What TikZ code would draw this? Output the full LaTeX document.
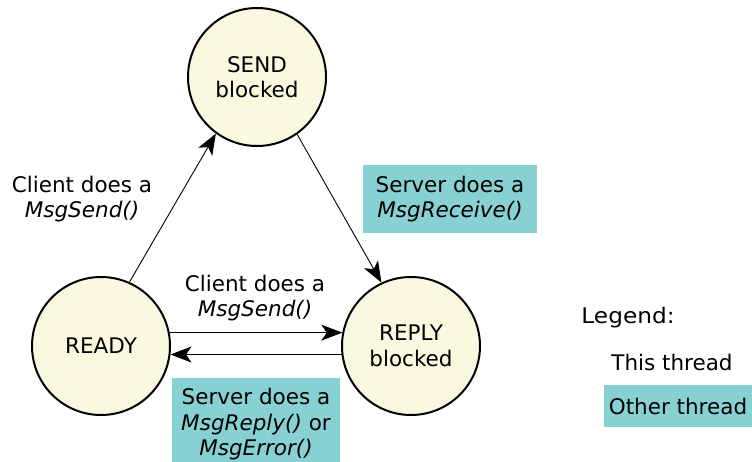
\documentclass[tikz,border=0pt]{standalone}
\usepackage{fontspec}
\setmainfont{DejaVu Sans}
\usetikzlibrary{arrows.meta}
\definecolor{statefill}{HTML}{F9F9DF}
\definecolor{otherthread}{HTML}{88D1D3}
\tikzset{
  state/.style={circle, draw=black, line width=2pt, fill=statefill,
    minimum size=138pt, inner sep=0pt, align=center},
  label/.style={align=center, inner sep=0pt},
  otherbox/.style={fill=otherthread, align=center, inner sep=0pt},
  trans/.style={line width=0.9pt, -{Stealth[length=21pt, width=16pt, inset=5.5pt]}},
}
\begin{document}
\begin{tikzpicture}[x=1pt, y=-1pt, font=\fontsize{21.5}{25.5}\selectfont]
  \useasboundingbox (0,0) rectangle (752,462);

  % states
  \node[state] (send)  at (257,77)  {SEND\\blocked};
  \node[state] (ready) at (101,346) {READY};
  \node[state] (reply) at (411,346) {REPLY\\blocked};

  % transitions
  \draw[trans] (ready.66) -- (send.234);
  \draw[trans] (send.305) -- (reply.115);
  \draw[trans] (ready.11) -- (reply.169);
  \draw[trans] (reply.187) -- (ready.-7);

  % transition labels
  \node[label] (lsend) at (82,199) {Client does a\\\textit{MsgSend()}};
  \node[label] (lsend2) at (255,298) {Client does a\\\textit{MsgSend()}};
  \node[otherbox, minimum width=174pt, minimum height=68pt] (lrecv) at (450,199)
    {Server does a\\\textit{MsgReceive()}};
  \node[otherbox, minimum width=168pt, minimum height=92pt, anchor=north] (lreply) at (256,378)
    {Server does a\\\textit{MsgReply()} or\\\textit{MsgError()}};

  % legend
  \node[label, xscale=1.08] (legend) at (628,318) {Legend:};
  \node[label] (this) at (672,362) {This thread};
  \node[otherbox, minimum width=148pt, minimum height=42pt] (other) at (678,406) {Other thread};
\end{tikzpicture}
\end{document}
